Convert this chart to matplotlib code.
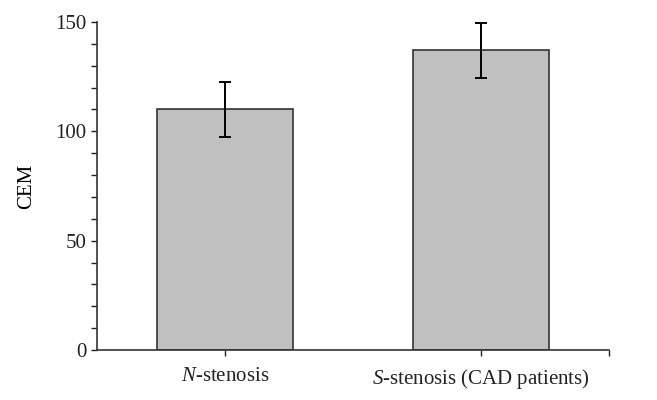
import matplotlib
matplotlib.use("Agg")
import matplotlib.pyplot as plt
from matplotlib.ticker import MultipleLocator, FixedLocator

# Datos del grafico
categorias = ["$N$-stenosis", "$S$-stenosis (CAD patients)"]
valores = [110, 137]
errores = [12.5, 12.6]

plt.rcParams['font.family'] = ['Liberation Serif', 'DejaVu Serif']
plt.rcParams['mathtext.fontset'] = 'custom'
plt.rcParams['mathtext.it'] = 'Liberation Serif:italic'
plt.rcParams['mathtext.rm'] = 'Liberation Serif'

fig = plt.figure(figsize=(6.57, 4.0), dpi=100)
ax = fig.add_axes([97/657, 50/400, 512/657, 328/400])

pos = list(range(len(categorias)))
ax.bar(pos, valores, width=0.53, color='#c0c0c0', edgecolor='#333333', linewidth=1.2, zorder=2)
ax.errorbar(pos, valores, yerr=errores, fmt='none', ecolor='black', elinewidth=1.4,
            capsize=4, capthick=1.4, zorder=3)

ax.set_xlim(-0.5, 1.5)
ax.set_ylim(0, 150)
ax.spines['top'].set_visible(False)
ax.spines['right'].set_visible(False)
for s in ['left', 'bottom']:
    ax.spines[s].set_color('#333333')
    ax.spines[s].set_linewidth(1.2)

ax.yaxis.set_major_locator(MultipleLocator(50))
ax.yaxis.set_minor_locator(MultipleLocator(10))
ax.tick_params(axis='y', which='major', direction='out', length=4, width=1, labelsize=15, colors='#222222')
ax.tick_params(axis='y', which='minor', direction='out', length=4, width=1, colors='#222222')

ax.set_xticks(pos)
ax.set_xticklabels(categorias)
ax.xaxis.set_minor_locator(FixedLocator([1.5]))
ax.tick_params(axis='x', which='both', direction='out', length=4, width=1, labelsize=15, pad=8, colors='#222222')

ax.set_ylabel("CEM", fontsize=15, labelpad=14)

fig.savefig("out.png", dpi=100)
